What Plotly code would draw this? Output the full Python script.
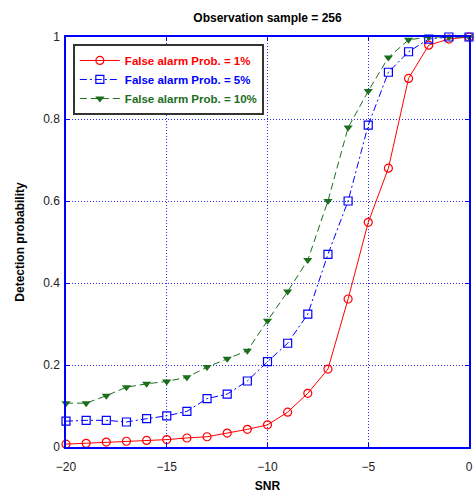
import plotly.graph_objects as go

snr = list(range(-20, 1))
pd_1 = [0.007, 0.009, 0.012, 0.014, 0.016, 0.018, 0.022, 0.025, 0.034, 0.043, 0.054,
        0.085, 0.131, 0.19, 0.361, 0.548, 0.68, 0.899, 0.98, 0.995, 1.0]
pd_5 = [0.063, 0.065, 0.065, 0.061, 0.069, 0.076, 0.087, 0.118, 0.129, 0.161, 0.208,
        0.253, 0.324, 0.47, 0.60, 0.785, 0.914, 0.964, 0.995, 1.0, 1.0]
pd_10 = [0.107, 0.107, 0.125, 0.146, 0.154, 0.16, 0.17, 0.195, 0.215, 0.235, 0.308,
         0.379, 0.456, 0.60, 0.779, 0.868, 0.95, 0.993, 1.0, 1.0, 1.0]
names = ["False alarm Prob. = 1%", "False alarm Prob. = 5%", "False alarm Prob. = 10%"]

RED = "#ff0000"
BLUE = "#0000ff"
GREEN = "#1b6e1b"
FONT = "Arial, Liberation Sans, sans-serif"

fig = go.Figure()
fig.add_trace(go.Scatter(
    x=snr, y=pd_1, mode="lines+markers", cliponaxis=False,
    name=f'<span style="color:{RED}"><b>{names[0]}</b></span>',
    line=dict(color=RED, width=1),
    marker=dict(symbol="circle-open", size=8, color=RED, line=dict(width=1.2)),
))
fig.add_trace(go.Scatter(
    x=snr, y=pd_5, mode="lines+markers", cliponaxis=False,
    name=f'<span style="color:{BLUE}"><b>{names[1]}</b></span>',
    line=dict(color=BLUE, width=1, dash="7px,3px,2px,3px"),
    marker=dict(symbol="square-open", size=8, color=BLUE, line=dict(width=1.2)),
))
fig.add_trace(go.Scatter(
    x=snr, y=pd_10, mode="lines+markers", cliponaxis=False,
    name=f'<span style="color:{GREEN}"><b>{names[2]}</b></span>',
    line=dict(color=GREEN, width=1, dash="7px,4px"),
    marker=dict(symbol="triangle-down", size=8, color=GREEN),
))

axis_common = dict(
    showline=True, linecolor=BLUE, linewidth=1.5, mirror="ticks",
    ticks="inside", ticklen=4, tickcolor=BLUE,
    showgrid=True, gridcolor="rgb(40,40,255)", griddash="1px,2px", gridwidth=1,
    zeroline=False, automargin=False,
    tickfont=dict(family=FONT, size=12, color="#222222"),
)

fig.update_layout(
    width=476, height=493,
    margin=dict(l=66, r=7, t=37, b=46, autoexpand=False),
    paper_bgcolor="white", plot_bgcolor="white",
    font=dict(family=FONT, size=12, color="black"),
    title=dict(text="<b>Observation sample = 256</b>", x=0.5, xref="paper",
               y=1 - 18 / 493, yref="container", yanchor="middle",
               font=dict(size=12, family=FONT)),
    xaxis=dict(range=[-20, 0], tickvals=[-20, -15, -10, -5, 0], **axis_common,
               ticklabelstandoff=8,
               title=dict(text="<b>SNR</b>", standoff=8, font=dict(size=12))),
    yaxis=dict(range=[0, 1], tickvals=[0, 0.2, 0.4, 0.6, 0.8, 1],
               ticktext=["0", "0.2", "0.4", "0.6", "0.8", "1"], **axis_common,
               ticklabelstandoff=2,
               title=dict(text="<b>Detection probability</b>", standoff=16, font=dict(size=12))),
    legend=dict(x=0.017, y=0.983, xanchor="left", yanchor="top",
                bgcolor="white", bordercolor="#333333", borderwidth=2,
                font=dict(family=FONT, size=11.5), tracegroupgap=0, itemwidth=40),
    showlegend=True,
)

fig.write_html("out.html", config={"displayModeBar": False},
               post_script="document.body.style.margin='0';")
